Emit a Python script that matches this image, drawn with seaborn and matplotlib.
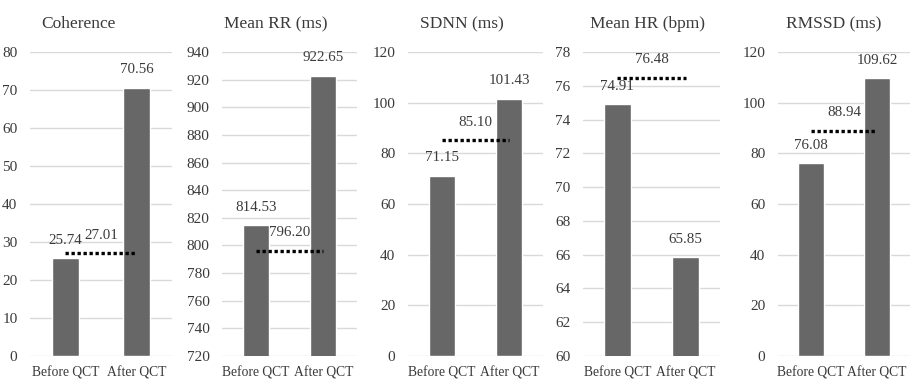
"""
Before / after QCT comparison of HRV measures, one small bar panel per measure
"""
import matplotlib
matplotlib.use("Agg")
from matplotlib import pyplot as plt
import seaborn as sns

CATEGORIES = ["Before QCT", "After QCT"]

TITLES = ["Coherence", "Mean RR (ms)", "SDNN (ms)", "Mean HR (bpm)", "RMSSD (ms)"]
BEFORE = [25.74, 814.53, 71.15, 74.91, 76.08]
AFTER = [70.56, 922.65, 101.43, 65.85, 109.62]
REFERENCE = [27.01, 796.20, 85.10, 76.48, 88.94]

Y_MIN = [0, 720, 0, 60, 0]
Y_MAX = [80, 940, 120, 78, 120]
Y_STEP = [10, 20, 20, 2, 20]

# layout (figure pixels): left / right edge of each plot area, title x in axes fraction
LEFT_PX = [30, 222, 408, 583, 778]
RIGHT_PX = [172, 357, 543, 720, 910]
TITLE_X = [0.34, 0.40, 0.40, 0.47, 0.42]

W, H = 912, 389
TOP_PX, BOTTOM_PX = 52, 356

BAR_COLOR = "#676767"
GRID_COLOR = "#d9d9d9"
TEXT_COLOR = "#3a3a3a"

sns.set_style("white")
plt.rcParams["font.family"] = ["Liberation Serif", "DejaVu Serif"]


def draw_panel(fig, i):
    """
    one measure, two bars, plus the dotted reference line
    """
    left = LEFT_PX[i] / W
    width = (RIGHT_PX[i] - LEFT_PX[i]) / W
    bottom = 1 - BOTTOM_PX / H
    height = (BOTTOM_PX - TOP_PX) / H
    ax = fig.add_axes([left, bottom, width, height])

    values = [BEFORE[i], AFTER[i]]
    sns.barplot(x=CATEGORIES, y=values, ax=ax, color=BAR_COLOR,
                saturation=1, width=0.39, zorder=3)

    ax.set_xlim(-0.5, 1.5)
    ax.set_ylim(Y_MIN[i], Y_MAX[i])
    ticks = list(range(Y_MIN[i], Y_MAX[i] + 1, Y_STEP[i]))
    ax.set_yticks(ticks)
    ax.yaxis.grid(True, color=GRID_COLOR, linewidth=1.0, zorder=0)
    ax.set_axisbelow(True)
    for side in ["top", "right", "left", "bottom"]:
        ax.spines[side].set_visible(False)
    ax.tick_params(axis="y", length=0, pad=9, labelsize=11,
                   labelcolor=TEXT_COLOR)
    ax.tick_params(axis="x", length=0, pad=7, labelsize=9.8,
                   labelcolor=TEXT_COLOR)
    ax.set_xlabel("")
    ax.set_ylabel("")

    for x, v in enumerate(values):
        ax.annotate("%.2f" % v, (x, v), xytext=(0, 13),
                    textcoords="offset points", ha="center", va="center",
                    fontsize=10.8, color=TEXT_COLOR, zorder=5)

    ax.plot([0, 1], [REFERENCE[i], REFERENCE[i]], color="black",
            linestyle=(0, (1, 0.8)), linewidth=2.4, zorder=4)
    ax.annotate("%.2f" % REFERENCE[i], (0.5, REFERENCE[i]), xytext=(0, 13),
                textcoords="offset points", ha="center", va="center",
                fontsize=10.8, color=TEXT_COLOR, zorder=5)

    ax.set_title(TITLES[i], x=TITLE_X[i], pad=17, fontsize=12.5,
                 color=TEXT_COLOR)
    return ax


fig = plt.figure(figsize=(W / 100, H / 100), dpi=100)
for i in range(len(TITLES)):
    draw_panel(fig, i)

fig.savefig("out.png", dpi=100)
